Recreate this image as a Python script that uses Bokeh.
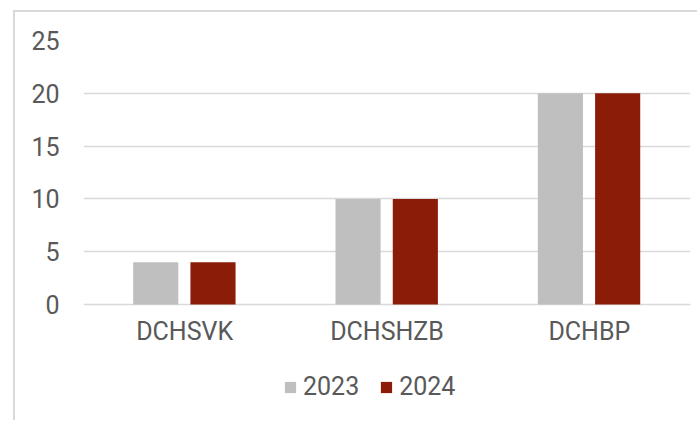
from bokeh.plotting import figure
from bokeh.models import ColumnDataSource, FactorRange, Range1d, Legend, LegendItem
from bokeh.transform import dodge
from bokeh.embed import file_html
from bokeh.resources import INLINE

categories = ["DCHSVK", "DCHSHZB", "DCHBP"]
values_2023 = [4, 10, 20]
values_2024 = [4, 10, 20]
series_names = ["2023", "2024"]
y_ticks = [0, 5, 10, 15, 20, 25]

FONT = "Roboto"
TEXT = "#595959"
GRID = "#d9d9d9"

src = ColumnDataSource(dict(cat=categories, v2023=values_2023, v2024=values_2024))

p = figure(x_range=FactorRange(*categories, range_padding=0), y_range=Range1d(-11.17, 25),
           width=684, height=410, output_backend="svg", toolbar_location=None,
           min_border_left=68, min_border_right=9, min_border_top=28, min_border_bottom=0)
p.styles = {"margin-left": "13px", "margin-top": "10px",
            "border-left": "2px solid #d9d9d9", "border-top": "2px solid #d9d9d9"}
p.outline_line_color = None

r1 = p.vbar(x=dodge("cat", -0.143, range=p.x_range), top="v2023", width=0.223,
            source=src, color="#bfbfbf", line_color=None)
r2 = p.vbar(x=dodge("cat", 0.14, range=p.x_range), top="v2024", width=0.223,
            source=src, color="#8b1c08", line_color=None)

p.xgrid.grid_line_color = None
p.ygrid.grid_line_color = GRID
p.ygrid.grid_line_width = 1.5
p.yaxis.ticker = y_ticks
p.xaxis.fixed_location = 0
for ax in (p.xaxis[0], p.yaxis[0]):
    ax.axis_line_color = None
    ax.major_tick_line_color = None
    ax.minor_tick_line_color = None
    ax.major_label_text_font = FONT
    ax.major_label_text_font_size = "25px"
    ax.major_label_text_color = TEXT
p.yaxis.major_label_standoff = 18
p.xaxis.major_label_standoff = 6

legend = Legend(items=[LegendItem(label=series_names[0], renderers=[r1]),
                       LegendItem(label=series_names[1], renderers=[r2])],
                orientation="horizontal", location=(200, 21),
                glyph_width=14, glyph_height=14, label_standoff=6, spacing=20,
                padding=0, margin=0, border_line_color=None, background_fill_alpha=0,
                label_text_font=FONT, label_text_font_size="25px", label_text_color=TEXT)
p.add_layout(legend)

open("out.html", "w").write(file_html(p, INLINE))
